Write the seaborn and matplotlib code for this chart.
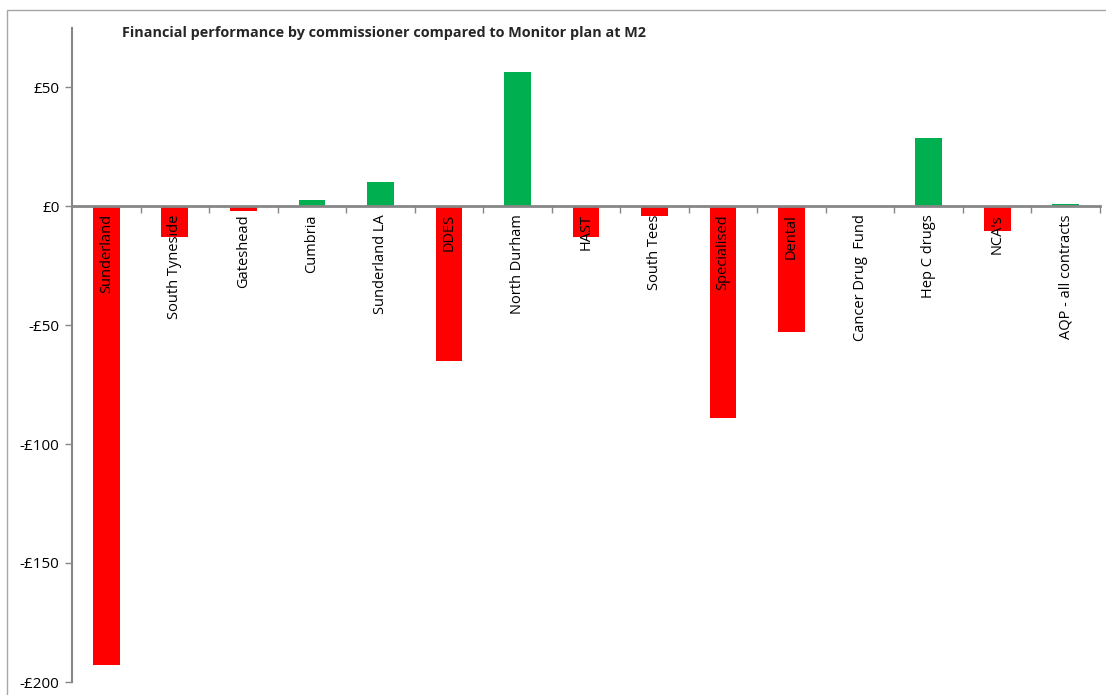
import matplotlib
matplotlib.use("Agg")
import matplotlib.pyplot as plt
import matplotlib.patches as mpatches
import seaborn as sns
import numpy as np

# Variance against plan by commissioner (£k)
commissioners = [
    "Sunderland", "South Tyneside", "Gateshead", "Cumbria", "Sunderland LA",
    "DDES", "North Durham", "HAST", "South Tees", "Specialised", "Dental",
    "Cancer Drug  Fund", "Hep C drugs", "NCA's", "AQP - all contracts",
]
variance = [-193, -13, -2, 2.5, 10, -65, 56.3, -13, -4, -89, -53, 0, 28.6, -10.5, 0.8]

sns.set_theme(style="white")
plt.rcParams["font.family"] = ["Open Sans", "DejaVu Sans"]

fig = plt.figure(figsize=(11.06, 6.95), dpi=100)
ax = fig.add_axes([72 / 1106, 1 - 682 / 695, 1028 / 1106, (682 - 27.5) / 695])

palette = ["#00B050" if v > 0 else "#FF0000" for v in variance]
sns.barplot(x=commissioners, y=variance, hue=commissioners, palette=palette,
            legend=False, width=0.39, ax=ax, saturation=1,
            edgecolor="none", linewidth=0)
# axis line and category labels sit on top of the bars
ax.set_axisbelow(False)
for bar in ax.patches:
    bar.set_zorder(1)

ax.set_ylim(-200, 75)
ax.set_xlim(-0.5, len(commissioners) - 0.5)
ax.set_yticks([50, 0, -50, -100, -150, -200])
ax.set_yticklabels(["£50", "£0", "-£50", "-£100", "-£150", "-£200"], fontsize=11)

axis_grey = "#868686"
for side in ["top", "right"]:
    ax.spines[side].set_visible(False)
ax.spines["left"].set_color(axis_grey)
ax.spines["left"].set_linewidth(1.5)
ax.spines["bottom"].set_position(("data", 0))
ax.spines["bottom"].set_color(axis_grey)
ax.spines["bottom"].set_linewidth(2)

ax.tick_params(axis="y", which="major", left=True, length=5, width=1,
               color=axis_grey, pad=4, labelcolor="black")
ax.set_xticks(np.arange(len(commissioners)))
ax.set_xticklabels(commissioners, rotation=90, fontsize=10.5, va="top", ha="center")
ax.tick_params(axis="x", which="major", length=0, pad=6, labelcolor="black")
ax.set_xticks(np.arange(len(commissioners)) + 0.5, minor=True)
ax.tick_params(axis="x", which="minor", bottom=True, length=5, width=1,
               color=axis_grey)
ax.set_xlabel("")
ax.set_ylabel("")
ax.grid(False)

ax.text(122 / 1106, 1 - 33 / 695,
        "Financial performance by commissioner compared to Monitor plan at M2",
        transform=fig.transFigure, fontsize=10.4, fontweight="bold",
        ha="left", va="center")

# Chart-area frame
fig.patches.append(mpatches.Rectangle((7 / 1106, -0.1), 1.2, 1 - 10 / 695 + 0.1,
                                      transform=fig.transFigure, fill=False,
                                      edgecolor="#A6A6A6", linewidth=1))

fig.savefig("out.png", dpi=100)
